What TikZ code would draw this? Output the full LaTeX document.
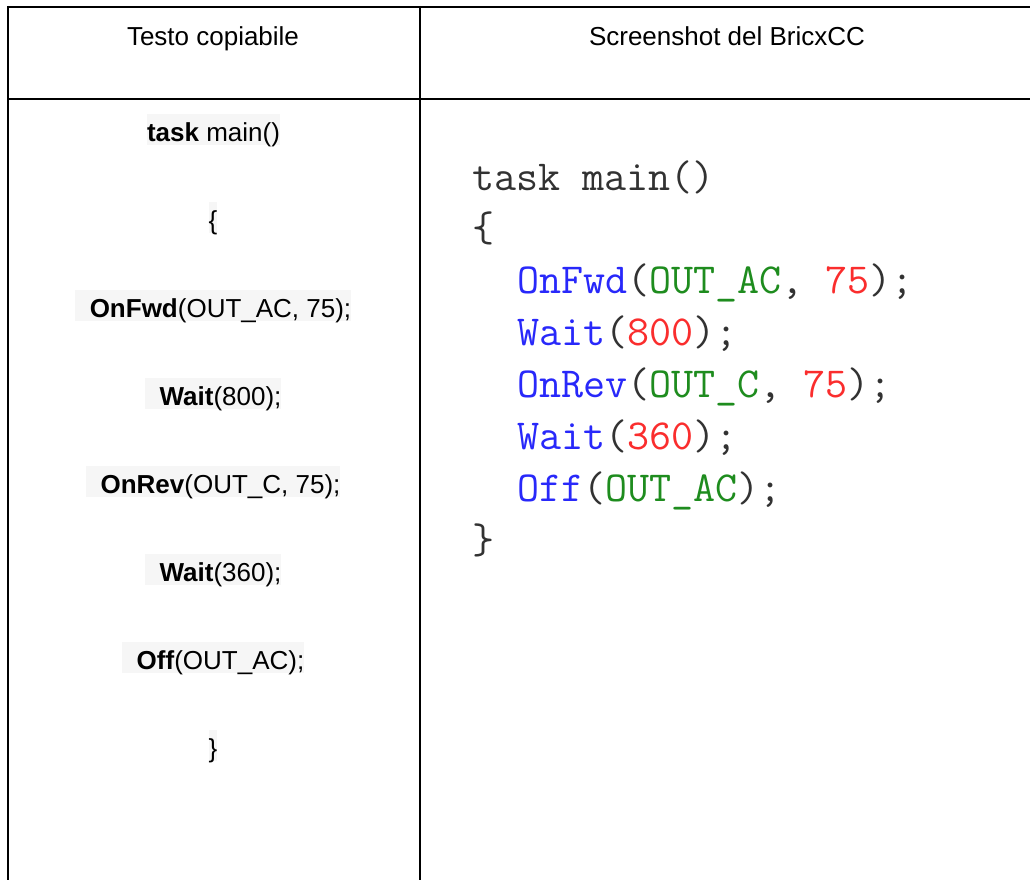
\documentclass[tikz,border=0pt]{standalone}
\usepackage{fontspec}
\setmainfont{Liberation Sans}
\definecolor{hl}{HTML}{F6F6F6}
\definecolor{kwblue}{RGB}{40,40,250}
\definecolor{kwgreen}{RGB}{30,140,30}
\definecolor{kwred}{RGB}{250,45,45}
\definecolor{punct}{RGB}{50,50,50}
\tikzset{
  rule/.style={line width=2pt, black},
  head/.style={font=\fontsize{26}{31}\selectfont, anchor=base, inner sep=0pt},
  lcode/.style={font=\fontsize{26}{31}\selectfont, anchor=base, fill=hl, inner xsep=0pt, inner ysep=3pt, text height=24pt, text depth=1pt},
  rcode/.style={font=\ttfamily\fontsize{42.8}{50}\selectfont, anchor=base west, inner sep=0pt, text=punct}
}
\newcommand{\lpad}{\hspace*{15pt}}
\newcommand{\kb}[1]{\textcolor{kwblue}{#1}}
\newcommand{\kg}[1]{\textcolor{kwgreen}{#1}}
\newcommand{\kr}[1]{\textcolor{kwred}{#1}}
\begin{document}
\begin{tikzpicture}[x=1pt,y=-1pt]
\useasboundingbox (0,0) rectangle (1030,880);
% table rules
\draw[rule] (7.5,7) -- (1032,7);
\draw[rule] (7.5,99) -- (1032,99);
\draw[rule] (7.5,6) -- (7.5,882);
\draw[rule] (420,6) -- (420,882);
% headers
\node[head] (h1) at (213,46) {Testo copiabile};
\node[head] (h2) at (727,46) {Screenshot del BricxCC};
% left column
\node[lcode] (l1) at (213.5,141) {\textbf{task} main()};
\node[lcode] (l2) at (213,229) {\{};
\node[lcode] (l3) at (213,317) {\lpad\textbf{OnFwd}(OUT\_AC, 75);};
\node[lcode] (l4) at (213,405) {\lpad\textbf{Wait}(800);};
\node[lcode] (l5) at (213,493) {\lpad\textbf{OnRev}(OUT\_C, 75);};
\node[lcode] (l6) at (213,581) {\lpad\textbf{Wait}(360);};
\node[lcode] (l7) at (213,669) {\lpad\textbf{Off}(OUT\_AC);};
\node[lcode] (l8) at (213,757) {\}};
% right column (screenshot)
\node[rcode] (r1) at (472,190) {task main()};
\node[rcode] (r2) at (472,241.5) {\{};
\node[rcode] (r3) at (517,293) {\kb{OnFwd}(\kg{OUT\_AC}, \kr{75});};
\node[rcode] (r4) at (517,345) {\kb{Wait}(\kr{800});};
\node[rcode] (r5) at (517,397) {\kb{OnRev}(\kg{OUT\_C}, \kr{75});};
\node[rcode] (r6) at (517,449) {\kb{Wait}(\kr{360});};
\node[rcode] (r7) at (517,501) {\kb{Off}(\kg{OUT\_AC});};
\node[rcode] (r8) at (472,553) {\}};
\end{tikzpicture}
\end{document}
